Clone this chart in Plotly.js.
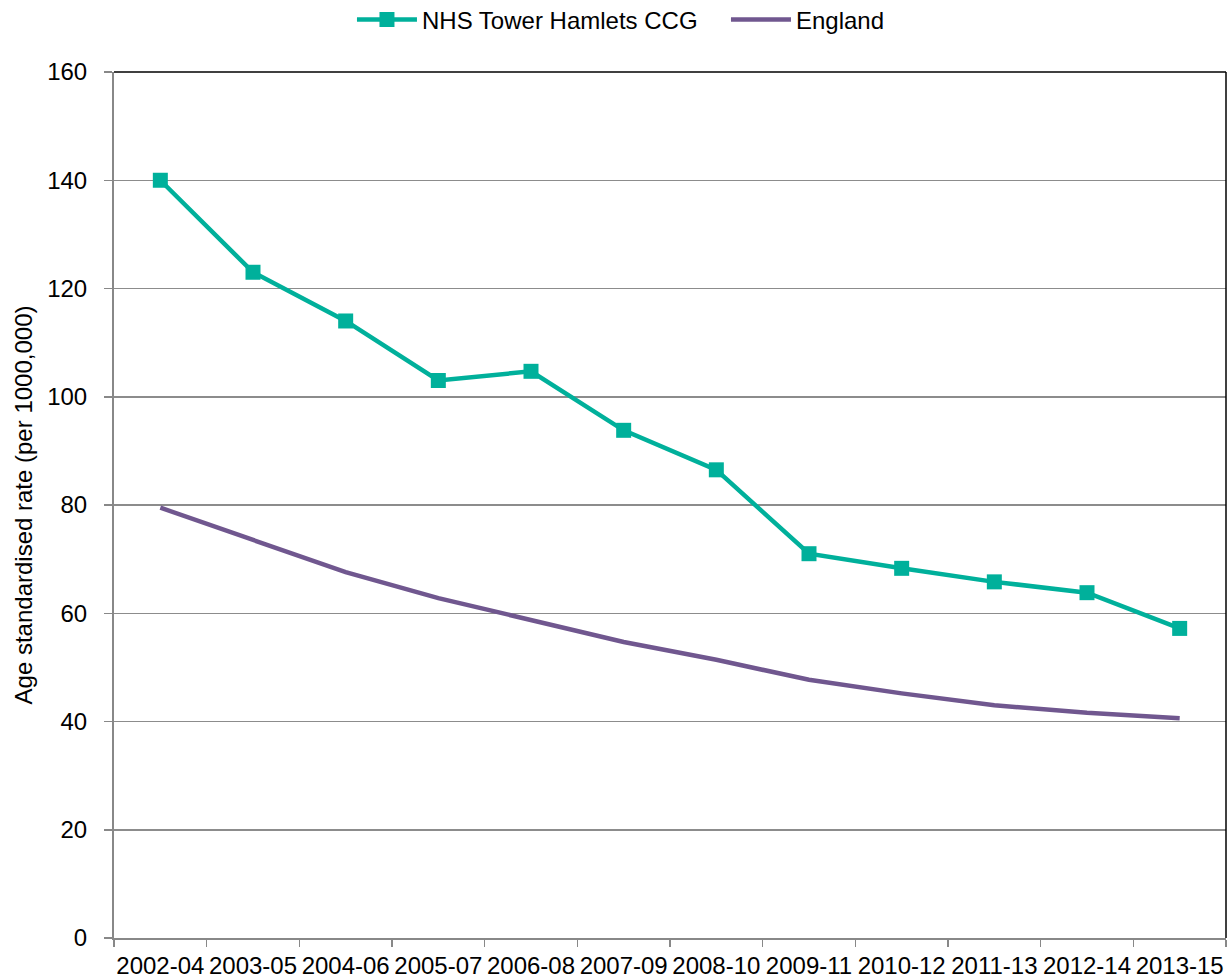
<!DOCTYPE html>
<html><head><meta charset="utf-8">
<script src="https://cdn.plot.ly/plotly-3.0.1.min.js"></script>
<style>body{margin:0;background:#fff}#c{width:1228px;height:980px}</style>
</head><body><div id="c"></div>
<script>
var periods = ["2002-04","2003-05","2004-06","2005-07","2006-08","2007-09","2008-10","2009-11","2010-12","2011-13","2012-14","2013-15"];
var towerHamlets = [140, 123, 114, 103, 104.7, 93.8, 86.5, 71, 68.3, 65.8, 63.8, 57.2];
var england = [79.5, 73.5, 67.6, 62.8, 58.8, 54.7, 51.4, 47.7, 45.2, 43.0, 41.6, 40.6];

var traces = [
  {x: periods, y: towerHamlets, name: "NHS Tower Hamlets CCG", type: "scatter", mode: "lines+markers",
   line: {color: "#00b09b", width: 4.5}, marker: {symbol: "square", size: 15, color: "#00b09b"}},
  {x: periods, y: england, name: "England", type: "scatter", mode: "lines",
   line: {color: "#70578f", width: 4.5}}
];
var layout = {
  width: 1228, height: 980,
  margin: {l: 114, r: 2, t: 72, b: 42, autoexpand: false},
  paper_bgcolor: "#fff", plot_bgcolor: "#fff",
  font: {family: "Liberation Sans, Arial, sans-serif", size: 24, color: "#000"},
  showlegend: true,
  legend: {orientation: "h", x: 0.214, xanchor: "left", y: 1.086, yanchor: "top", font: {size: 24},
           itemwidth: 60, entrywidth: 299, traceorder: "normal", bgcolor: "rgba(0,0,0,0)"},
  xaxis: {type: "category", range: [-0.5, 11.5], tickson: "boundaries", ticks: "outside", ticklen: 7, tickcolor: "#888", tickwidth: 1.5,
          showline: true, linecolor: "#888", linewidth: 2, showgrid: false, zeroline: false, automargin: false,
          tickangle: 0, tickfont: {size: 24}, ticklabelstandoff: 5},
  yaxis: {range: [0, 160], dtick: 20, ticks: "outside", ticklen: 8, tickcolor: "#888", tickwidth: 1.5,
          showline: true, linecolor: "#888", linewidth: 2, showgrid: true, gridcolor: "#8c8c8c", gridwidth: 1.5,
          zeroline: false, automargin: false, tickfont: {size: 24}, ticklabelstandoff: 12,
          title: {text: "Age standardised rate (per 1000,000)", font: {size: 24}, standoff: 8}},
  shapes: [
    {type: "line", xref: "paper", yref: "paper", x0: 0, x1: 1, y0: 1, y1: 1, line: {color: "#000", width: 1.5}},
    {type: "line", xref: "paper", yref: "paper", x0: 1, x1: 1, y0: 0, y1: 1, line: {color: "#000", width: 1.5}}
  ]
};
Plotly.newPlot("c", traces, layout, {displayModeBar: false, staticPlot: true});
</script></body></html>
